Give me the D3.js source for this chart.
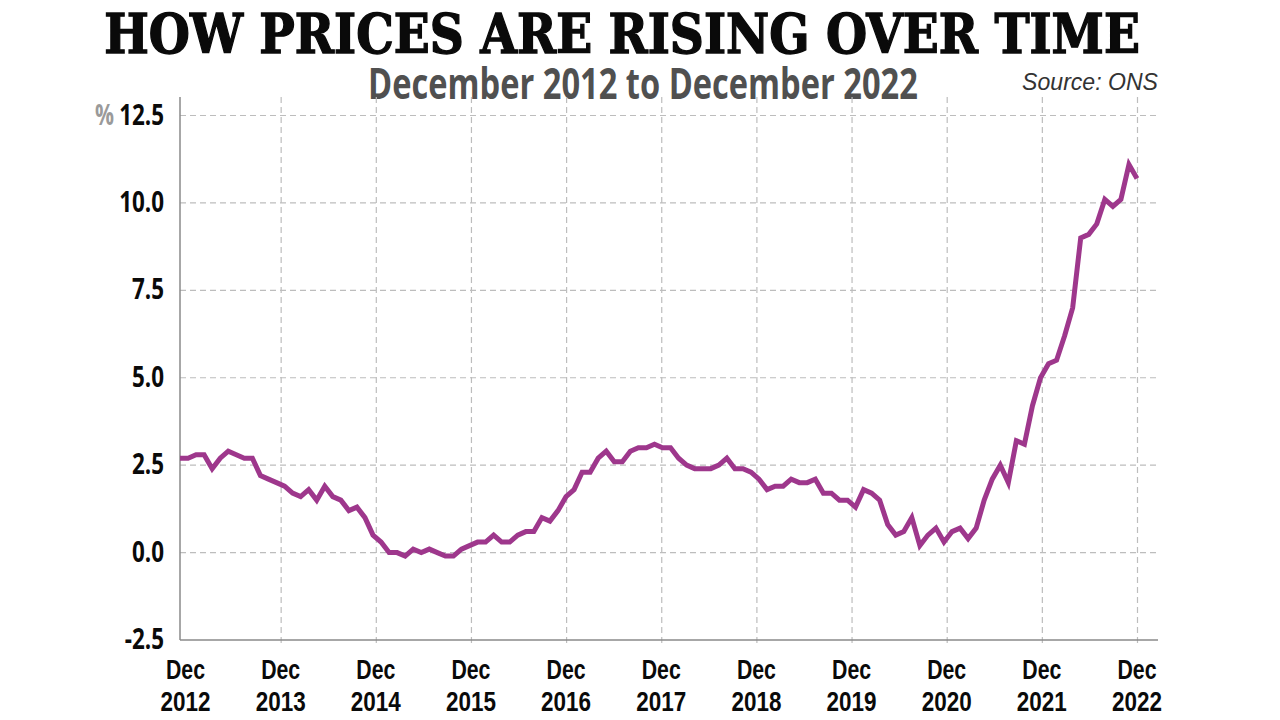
<!DOCTYPE html>
<html>
<head>
<meta charset="utf-8">
<script src="https://cdn.jsdelivr.net/npm/d3@7"></script>
<style>
  html, body { margin: 0; padding: 0; background: #fff; }
  svg { display: block; }
</style>
</head>
<body>
<svg id="chart" width="1280" height="720"></svg>
<script>
// ---- Data (UK CPI annual rate, %, Dec 2012 .. Nov 2022) ----
const cpiValues = [
  2.7,
  2.7, 2.8, 2.8, 2.4, 2.7, 2.9, 2.8, 2.7, 2.7, 2.2, 2.1, 2.0,
  1.9, 1.7, 1.6, 1.8, 1.5, 1.9, 1.6, 1.5, 1.2, 1.3, 1.0, 0.5,
  0.3, 0.0, 0.0, -0.1, 0.1, 0.0, 0.1, 0.0, -0.1, -0.1, 0.1, 0.2,
  0.3, 0.3, 0.5, 0.3, 0.3, 0.5, 0.6, 0.6, 1.0, 0.9, 1.2, 1.6,
  1.8, 2.3, 2.3, 2.7, 2.9, 2.6, 2.6, 2.9, 3.0, 3.0, 3.1, 3.0,
  3.0, 2.7, 2.5, 2.4, 2.4, 2.4, 2.5, 2.7, 2.4, 2.4, 2.3, 2.1,
  1.8, 1.9, 1.9, 2.1, 2.0, 2.0, 2.1, 1.7, 1.7, 1.5, 1.5, 1.3,
  1.8, 1.7, 1.5, 0.8, 0.5, 0.6, 1.0, 0.2, 0.5, 0.7, 0.3, 0.6,
  0.7, 0.4, 0.7, 1.5, 2.1, 2.5, 2.0, 3.2, 3.1, 4.2, 5.0, 5.4,
  5.5, 6.2, 7.0, 9.0, 9.1, 9.4, 10.1, 9.9, 10.1, 11.1, 10.7
];
const yTicks = [-2.5, 0, 2.5, 5, 7.5, 10, 12.5];
const tickYears = [2012, 2013, 2014, 2015, 2016, 2017, 2018, 2019, 2020, 2021, 2022];
const tickMonth = "Dec";
const titleText = "HOW PRICES ARE RISING OVER TIME";
const subtitleText = "December 2012 to December 2022";
const sourceText = "Source: ONS";
const unitText = "%";

// ---- Layout ----
const svg = d3.select("#chart");
const plotLeft = 180, plotRight = 1158, plotTop = 97, plotBottom = 640;
const lineColor = "#9e378c";
const labelFont = "'Open Sans', 'Noto Sans', sans-serif";
const tightFont = "'Liberation Sans', Arial, sans-serif";

const xData = d3.scaleLinear().domain([0, cpiValues.length - 1]).range([180, 1137]);
const xYear = d3.scaleLinear().domain([2012, 2022]).range([186, 1137.5]);
const y = d3.scaleLinear().domain([-2.5, 12.5]).range([640, 115.5]);

function squeeze(sel, ratio) {
  sel.each(function() {
    const w = this.getComputedTextLength();
    d3.select(this).attr("textLength", w * ratio).attr("lengthAdjust", "spacingAndGlyphs");
  });
}
// place a text at (x, yb) and scale it horizontally to a target width
function fitText(sel, x, yb, width) {
  sel.attr("x", 0).attr("y", 0);
  const w = sel.node().getComputedTextLength();
  sel.attr("transform", `translate(${x},${yb}) scale(${width / w},1)`);
}

// Title
const title = svg.append("text")
  .attr("text-anchor", "middle")
  .attr("font-family", "'DejaVu Serif Condensed', 'DejaVu Serif', serif")
  .attr("font-stretch", "condensed")
  .attr("font-weight", 900)
  .attr("font-size", 54)
  .attr("fill", "#0a0a0a")
  .attr("stroke", "#0a0a0a")
  .attr("stroke-width", 1.3)
  .text(titleText);
fitText(title, 622, 53, 1036);

// Subtitle
const sub = svg.append("text")
  .attr("text-anchor", "middle")
  .attr("font-family", labelFont)
  .attr("font-weight", 700)
  .attr("font-size", 43)
  .attr("fill", "#505050")
  .text(subtitleText);
fitText(sub, 643, 99, 550);

// Source
const src = svg.append("text")
  .attr("text-anchor", "end")
  .attr("font-family", tightFont)
  .attr("font-style", "italic")
  .attr("font-weight", 400)
  .attr("font-size", 24)
  .attr("fill", "#333")
  .text(sourceText);
fitText(src, 1158, 90, 136);

// Gridlines horizontal
const grid = svg.append("g").attr("stroke", "#bdbdbd").attr("stroke-width", 1.2).attr("stroke-dasharray", "6,4");
grid.append("g").selectAll("line").data(yTicks.filter(d => d > -2.5)).join("line")
  .attr("x1", plotLeft).attr("x2", plotRight)
  .attr("y1", d => y(d)).attr("y2", d => y(d));
// Gridlines vertical
grid.append("g").selectAll("line").data(tickYears.slice(1)).join("line")
  .attr("x1", d => xYear(d)).attr("x2", d => xYear(d))
  .attr("y1", plotTop).attr("y2", plotBottom + 6);

// Axes lines
svg.append("line").attr("x1", plotLeft).attr("x2", plotLeft).attr("y1", plotTop).attr("y2", plotBottom)
  .attr("stroke", "#8a8a8a").attr("stroke-width", 1.5);
svg.append("line").attr("x1", plotLeft).attr("x2", plotRight).attr("y1", plotBottom).attr("y2", plotBottom)
  .attr("stroke", "#8a8a8a").attr("stroke-width", 1.5);

// Y labels
const yl = svg.append("g").selectAll("text").data(yTicks).join("text")
  .attr("x", 164).attr("y", d => y(d) + 9)
  .attr("text-anchor", "end")
  .attr("font-family", labelFont)
  .attr("font-weight", 700)
  .attr("font-size", 28)
  .attr("fill", "#0a0a0a")
  .text(d => d.toFixed(1));
squeeze(yl, 0.8);

svg.append("text")
  .attr("x", 95).attr("y", y(12.5) + 9)
  .attr("font-family", labelFont)
  .attr("font-weight", 700)
  .attr("font-size", 28)
  .attr("fill", "#9a9a9a")
  .attr("textLength", 19).attr("lengthAdjust", "spacingAndGlyphs")
  .text(unitText);

// X labels (two lines)
const xl = svg.append("g").selectAll("text").data(tickYears).join("text")
  .attr("text-anchor", "middle")
  .attr("font-family", tightFont).attr("font-weight", 700)
  .attr("font-size", 28.5).attr("fill", "#0a0a0a")
  .attr("y", 679);
xl.append("tspan").attr("x", d => xYear(d) - 0.5).text(tickMonth)
  .attr("textLength", 39).attr("lengthAdjust", "spacingAndGlyphs");
xl.append("tspan").attr("x", d => xYear(d) - 0.5).attr("dy", 32).text(d => d)
  .attr("textLength", 50).attr("lengthAdjust", "spacingAndGlyphs");

// Line
const line = d3.line().x((d, i) => xData(i)).y(d => y(d));
svg.append("path")
  .datum(cpiValues)
  .attr("d", line)
  .attr("fill", "none")
  .attr("stroke", lineColor)
  .attr("stroke-width", 5)
  .attr("stroke-linejoin", "miter")
  .attr("stroke-linecap", "butt");
</script>
</body>
</html>
